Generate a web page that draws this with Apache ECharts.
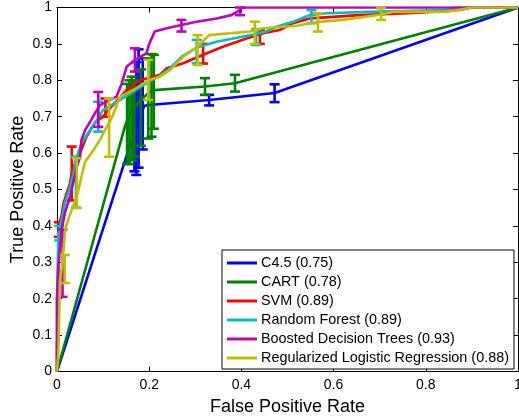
<!DOCTYPE html>
<html>
<head>
<meta charset="utf-8">
<script src="https://cdn.jsdelivr.net/npm/echarts@6/dist/echarts.min.js"></script>
<style>html,body{margin:0;padding:0;background:#fff}#c{width:519px;height:418px}</style>
</head>
<body>
<div id="c"></div>
<script>
// ---------- DATA ----------
const seriesNames = ['C4.5 (0.75)', 'CART (0.78)', 'SVM (0.89)', 'Random Forest (0.89)', 'Boosted Decision Trees (0.93)', 'Regularized Logistic Regression (0.88)'];
const xTicks = [0, 0.2, 0.4, 0.6, 0.8, 1];
const yTicks = [0, 0.1, 0.2, 0.3, 0.4, 0.5, 0.6, 0.7, 0.8, 0.9, 1];

// C4.5
const c45X = [0, 0.163, 0.168, 0.172, 0.177, 0.181, 0.186, 0.19, 0.2, 0.33, 0.472, 1];
const c45Y = [0, 0.64, 0.65, 0.67, 0.69, 0.70, 0.72, 0.73, 0.732, 0.746, 0.765, 1];
const c45ErrX = [0.168, 0.172, 0.177, 0.186, 0.33, 0.472];
const c45ErrLo = [0.55, 0.54, 0.56, 0.61, 0.731, 0.74];
const c45ErrHi = [0.78, 0.85, 0.885, 0.86, 0.76, 0.789];

// CART
const cartX = [0, 0.147, 0.152, 0.157, 0.162, 0.168, 0.175, 0.182, 0.19, 0.198, 0.205, 0.21, 0.321, 0.386, 1];
const cartY = [0, 0.672, 0.69, 0.70, 0.715, 0.725, 0.735, 0.745, 0.755, 0.765, 0.77, 0.773, 0.783, 0.792, 1];
const cartErrX = [0.152, 0.157, 0.162, 0.168, 0.182, 0.198, 0.205, 0.21, 0.321, 0.386];
const cartErrLo = [0.57, 0.57, 0.58, 0.59, 0.62, 0.64, 0.645, 0.667, 0.76, 0.769];
const cartErrHi = [0.79, 0.80, 0.81, 0.80, 0.83, 0.86, 0.872, 0.87, 0.806, 0.815];

// SVM
const svmX = [0, 0, 0.003, 0.003, 0.006, 0.01, 0.014, 0.021, 0.028, 0.032, 0.04, 0.05, 0.064, 0.082, 0.1, 0.12, 0.151, 0.18, 0.209, 0.223, 0.238, 0.274, 0.317, 0.36, 0.411, 0.447, 0.483, 0.512, 0.548, 0.657, 0.787, 0.873, 0.9, 1];
const svmY = [0, 0.08, 0.1, 0.3, 0.41, 0.43, 0.462, 0.49, 0.517, 0.545, 0.575, 0.6, 0.645, 0.683, 0.70, 0.73, 0.773, 0.80, 0.81, 0.815, 0.833, 0.847, 0.87, 0.892, 0.915, 0.929, 0.938, 0.957, 0.97, 0.979, 0.986, 0.993, 1, 1];
const svmErrX = [0.004, 0.032, 0.105, 0.317, 0.44];
const svmErrLo = [0.37, 0.47, 0.70, 0.846, 0.90];
const svmErrHi = [0.41, 0.618, 0.75, 0.90, 0.938];

// Random Forest
const rfX = [0, 0, 0.003, 0.01, 0.017, 0.028, 0.035, 0.043, 0.053, 0.0715, 0.086, 0.1, 0.137, 0.16, 0.194, 0.22, 0.245, 0.274, 0.303, 0.346, 0.418, 0.454, 0.476, 0.512, 0.548, 0.584, 0.678, 0.844, 0.86, 1];
const rfY = [0, 0.2, 0.38, 0.416, 0.462, 0.508, 0.54, 0.59, 0.627, 0.663, 0.69, 0.718, 0.746, 0.765, 0.792, 0.81, 0.833, 0.868, 0.89, 0.906, 0.924, 0.934, 0.947, 0.961, 0.979, 0.984, 0.988, 0.993, 1, 1];
const rfErrX = [0.005, 0.041, 0.0895, 0.303, 0.432, 0.552];
const rfErrLo = [0.36, 0.45, 0.659, 0.847, 0.897, 0.957];
const rfErrHi = [0.40, 0.59, 0.741, 0.911, 0.94, 0.993];

// Boosted Decision Trees
const bdtX = [0, 0, 0.003, 0.01, 0.017, 0.028, 0.035, 0.043, 0.05, 0.053, 0.061, 0.072, 0.082, 0.093, 0.115, 0.129, 0.14, 0.151, 0.169, 0.194, 0.2, 0.212, 0.238, 0.27, 0.3, 0.346, 0.378, 0.397, 0.4, 1];
const bdtY = [0, 0.2, 0.288, 0.389, 0.435, 0.48, 0.517, 0.563, 0.59, 0.636, 0.663, 0.686, 0.709, 0.732, 0.746, 0.755, 0.79, 0.837, 0.856, 0.874, 0.90, 0.934, 0.943, 0.952, 0.96, 0.97, 0.979, 0.993, 1, 1];
const bdtErrX = [0.012, 0.0895, 0.169, 0.27, 0.397];
const bdtErrLo = [0.205, 0.672, 0.824, 0.934, 0.979];
const bdtErrHi = [0.39, 0.768, 0.888, 0.966, 1.0];

// Regularized Logistic Regression
const rlrX = [0, 0.003, 0.0065, 0.012, 0.017, 0.02, 0.025, 0.032, 0.038, 0.043, 0.053, 0.061, 0.079, 0.093, 0.104, 0.112, 0.12, 0.129, 0.137, 0.165, 0.18, 0.198, 0.223, 0.245, 0.274, 0.303, 0.33, 0.418, 0.447, 0.52, 0.566, 0.62, 0.7, 0.729, 0.844, 0.87, 0.9, 1];
const rlrY = [0, 0.05, 0.25, 0.3, 0.38, 0.40, 0.42, 0.444, 0.465, 0.48, 0.535, 0.576, 0.608, 0.636, 0.663, 0.68, 0.70, 0.73, 0.755, 0.773, 0.785, 0.80, 0.81, 0.828, 0.865, 0.89, 0.924, 0.934, 0.943, 0.95, 0.96, 0.966, 0.98, 0.988, 0.988, 0.993, 1, 1];
const rlrErrX = [0.017, 0.043, 0.113, 0.198, 0.305, 0.429, 0.566, 0.703];
const rlrErrLo = [0.243, 0.449, 0.59, 0.746, 0.842, 0.90, 0.934, 0.966];
const rlrErrHi = [0.32, 0.586, 0.75, 0.856, 0.924, 0.961, 0.984, 0.998];

const colors = ['#0000FF', '#008000', '#FF0000', '#00BFBF', '#BF00BF', '#BFBF00'];

// ---------- BUILD ----------
const curves = [
  [c45X, c45Y, c45ErrX, c45ErrLo, c45ErrHi],
  [cartX, cartY, cartErrX, cartErrLo, cartErrHi],
  [svmX, svmY, svmErrX, svmErrLo, svmErrHi],
  [rfX, rfY, rfErrX, rfErrLo, rfErrHi],
  [bdtX, bdtY, bdtErrX, bdtErrLo, bdtErrHi],
  [rlrX, rlrY, rlrErrX, rlrErrLo, rlrErrHi]
];
const LW = 2.6;
const series = [];
curves.forEach((c, i) => {
  const [xs, ys, ex, elo, ehi] = c;
  series.push({
    name: seriesNames[i], type: 'line', showSymbol: false, symbol: 'none',
    data: xs.map((x, k) => [x, ys[k]]),
    lineStyle: { width: LW, color: colors[i] }, itemStyle: { color: colors[i] },
    z: 2 + i * 2, animation: false, clip: true
  });
  series.push({
    name: seriesNames[i] + ' err', type: 'custom',
    data: ex.map((x, k) => [x, elo[k], ehi[k]]),
    z: 3 + i * 2, animation: false,
    renderItem: function (params, api) {
      const x = api.value(0);
      const lo = api.coord([x, api.value(1)]);
      const hi = api.coord([x, api.value(2)]);
      const hw = 5;
      const st = { stroke: colors[i], lineWidth: LW };
      return { type: 'group', children: [
        { type: 'line', shape: { x1: lo[0], y1: lo[1], x2: hi[0], y2: hi[1] }, style: st },
        { type: 'line', shape: { x1: lo[0] - hw, y1: lo[1], x2: lo[0] + hw, y2: lo[1] }, style: st },
        { type: 'line', shape: { x1: hi[0] - hw, y1: hi[1], x2: hi[0] + hw, y2: hi[1] }, style: st }
      ]};
    }
  });
});

const FONT = 'Liberation Sans, Arial, Helvetica, sans-serif';
const axisCommon = {
  type: 'value', min: 0, max: 1,
  splitLine: { show: false },
  axisLine: { show: true, onZero: false, lineStyle: { color: '#000', width: 1 } },
  axisTick: { show: true, inside: true, length: 5, lineStyle: { color: '#000' } }
};
const option = {
  animation: false,
  backgroundColor: '#fff',
  grid: { left: 57, right: 1, top: 7.5, bottom: 46.5, containLabel: false, outerBoundsMode: 'none' },
  xAxis: [
    Object.assign({}, axisCommon, {
      position: 'bottom', interval: 0.2,
      axisLabel: { color: '#000', fontSize: 14, fontFamily: FONT, margin: 7,
        formatter: v => (xTicks.indexOf(v) >= 0 ? String(v) : '') },
      name: 'False Positive Rate', nameLocation: 'middle', nameGap: 27,
      nameTextStyle: { color: '#000', fontSize: 18, fontFamily: FONT }
    }),
    Object.assign({}, axisCommon, { position: 'top', interval: 0.2, axisLabel: { show: false } })
  ],
  yAxis: [
    Object.assign({}, axisCommon, {
      position: 'left', interval: 0.1,
      axisLabel: { color: '#000', fontSize: 14, fontFamily: FONT, margin: 5,
        formatter: v => { const t = yTicks.find(q => Math.abs(q - v) < 1e-9); return t === undefined ? '' : String(t); } },
      name: 'True Positive Rate', nameLocation: 'middle', nameGap: 30, nameMoveOverlap: false,
      nameTextStyle: { color: '#000', fontSize: 18, fontFamily: FONT }
    }),
    Object.assign({}, axisCommon, { position: 'right', interval: 0.1, axisLabel: { show: false } })
  ],
  legend: {
    data: seriesNames,
    orient: 'vertical', left: 222, top: 250,
    padding: [6, 5, 4, 5], itemGap: 5,
    itemWidth: 30, itemHeight: 3, icon: 'rect',
    backgroundColor: '#fff', borderColor: '#000', borderWidth: 1, borderRadius: 0,
    textStyle: { color: '#000', fontSize: 14.4, fontFamily: FONT, lineHeight: 14, padding: [0, 0, 0, -1] },
    z: 50
  },
  series: series
};
const chart = echarts.init(document.getElementById('c'), null, { renderer: 'canvas' });
chart.setOption(option);
</script>
</body>
</html>
